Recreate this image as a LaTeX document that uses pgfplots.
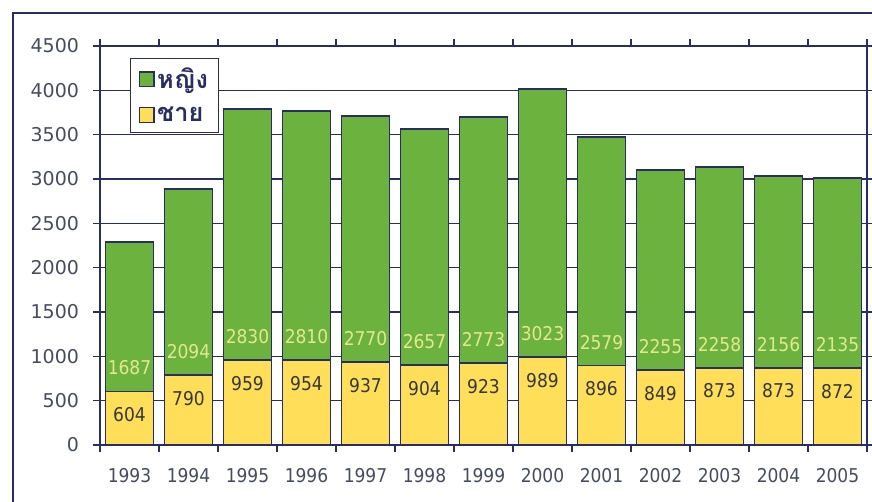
\documentclass[border=0pt]{standalone}
\usepackage{pgfplots}
\pgfplotsset{compat=1.18}
\usepackage{pgfplotstable}
\usepackage{fontspec}
\setmainfont{DejaVu Sans}
\newfontfamily\condfont{DejaVu Sans Condensed}
\newfontfamily\thaifont[Script=Thai]{Loma}
\definecolor{gbar}{RGB}{108,178,62}
\definecolor{ybar}{RGB}{255,222,90}
\definecolor{navy}{RGB}{40,46,100}
\definecolor{ticktxt}{RGB}{70,75,95}
\definecolor{glab}{RGB}{228,232,140}
\definecolor{ylab}{RGB}{55,55,60}
\pgfplotstableread{
x m f
0 604 1687
1 790 2094
2 959 2830
3 954 2810
4 937 2770
5 904 2657
6 923 2773
7 989 3023
8 896 2579
9 849 2255
10 873 2258
11 873 2156
12 872 2135
}\data
\begin{document}
\begin{tikzpicture}
\useasboundingbox (0pt,0pt) rectangle (654pt,-376.5pt);
\draw[navy, line width=0.8pt] (9.75pt,-376.5pt) -- (9.75pt,-9.75pt) -- (654pt,-9.75pt);
\pgfplotsset{
  base/.style={
    at={(75pt,-333.75pt)}, anchor=south west,
    scale only axis, width=575.25pt, height=299.25pt,
    xmin=-0.5, xmax=12.5, ymin=0, ymax=4500,
    /pgf/number format/assume math mode=true,
    /pgf/number format/1000 sep={},
  }
}
\begin{axis}[base,
  ybar stacked, bar width=36pt,
  axis line style={navy, line width=1pt},
  ymajorgrids, grid style={navy, line width=1pt},
  ytick={0,500,...,4500},
  xtick={0,...,12},
  xticklabels={1993,1994,1995,1996,1997,1998,1999,2000,2001,2002,2003,2004,2005},
  minor xtick={-0.5,0.5,...,12.5},
  tick align=outside,
  major tick length=5.25pt, minor tick length=5.25pt,
  major x tick style={draw=none},
  tick style={navy, line width=1pt},
  yticklabel style={font=\fontsize{14.25}{16}\selectfont, text=ticktxt, xshift=-7pt},
  xticklabel style={font=\condfont\fontsize{14.25}{16}\selectfont, text=ticktxt, yshift=-9pt},
  reverse legend,
  legend style={at={(0.039,0.97)}, anchor=north west, draw=navy, line width=1pt,
    font=\thaifont\bfseries\fontsize{19}{21}\selectfont, text=navy,
    row sep=8pt, inner xsep=6pt, inner ysep=5pt},
  legend cell align=left,
  legend image code/.code={\draw[#1, draw=navy, line width=1pt] (0pt,-5.5pt) rectangle (11pt,5.5pt);},
]
\addplot[fill=ybar, draw=navy, line width=1.4pt] table[x=x, y=m] {\data};
\addplot[fill=gbar, draw=navy, line width=1.4pt] table[x=x, y=f] {\data};
\legend{ชาย,หญิง}
\end{axis}
\begin{axis}[base, hide axis]
\addplot[draw=none, mark=none, point meta=explicit,
  nodes near coords={\pgfmathprintnumber{\pgfplotspointmeta}},
  every node near coord/.append style={anchor=north, inner sep=0pt, yshift=-12pt,
    font=\condfont\fontsize{14.25}{16}\selectfont, text=ylab}]
  table[x=x, y=m, meta=m] {\data};
\addplot[draw=none, mark=none, point meta=explicit,
  nodes near coords={\pgfmathprintnumber{\pgfplotspointmeta}},
  every node near coord/.append style={anchor=south, inner sep=0pt, yshift=12pt,
    font=\condfont\fontsize{14.25}{16}\selectfont, text=glab}]
  table[x=x, y=m, meta=f] {\data};
\end{axis}
\end{tikzpicture}
\end{document}
